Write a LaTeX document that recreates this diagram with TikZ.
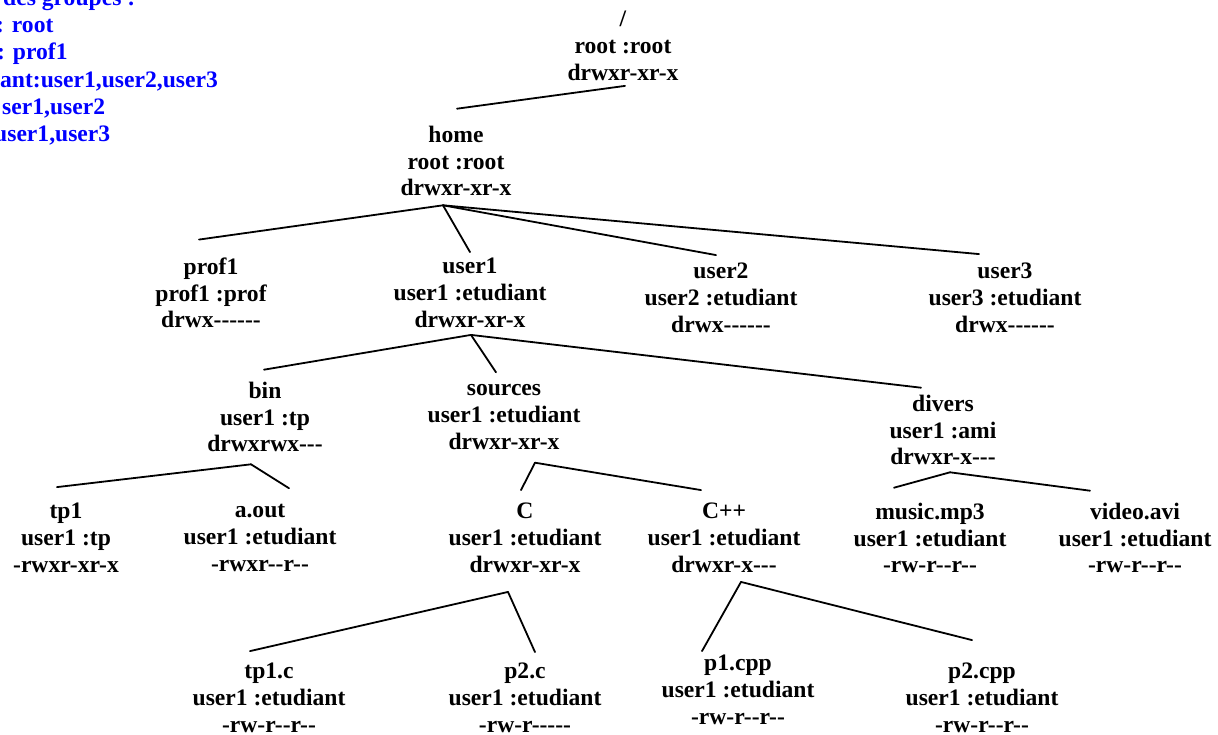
\documentclass[tikz,border=0pt]{standalone}
\usepackage{fontspec}
\setmainfont{Liberation Serif}[Ligatures=TeXOff]

\tikzset{
  entry/.style={align=center, inner sep=0pt, font=\bfseries\fontsize{23.6}{26.8}\selectfont},
  grp/.style={anchor=base west, inner sep=0pt, text=blue, font=\bfseries\fontsize{23.6}{27}\selectfont},
  link/.style={line width=1.8pt, line cap=round, line join=miter},
}

\begin{document}
\begin{tikzpicture}[x=1pt, y=-1pt]
    \useasboundingbox (0,0) rectangle (1218,734);

    % グループ一覧（左上、左端で切れている）
    \node[grp] (g0) at (3,5)      {des groupes :};
    \node[grp] (g1) at (-4,32.5)  {: root};
    \node[grp] (g2) at (-3,59.5)  {: prof1};
    \node[grp] (g3) at (0,87)     {ant:user1,user2,user3};
    \node[grp] (g4) at (2,114)    {ser1,user2};
    \node[grp] (g5) at (-6,141)   {user1,user3};

    % ディレクトリ木
    \node[entry] (root)    at (623,46)  {/\\root :root\\drwxr-xr-x};
    \node[entry] (home)    at (456,161) {home\\root :root\\drwxr-xr-x};

    \node[entry] (prof1)   at (211,293) {prof1\\prof1 :prof\\drwx------};
    \node[entry] (user1)   at (470,293) {user1\\user1 :etudiant\\drwxr-xr-x};
    \node[entry] (user2)   at (721,298) {user2\\user2 :etudiant\\drwx------};
    \node[entry] (user3)   at (1005,298) {user3\\user3 :etudiant\\drwx------};

    \node[entry] (bin)     at (265,417) {bin\\user1 :tp\\drwxrwx---};
    \node[entry] (sources) at (504,417) {sources\\user1 :etudiant\\drwxr-xr-x};
    \node[entry] (divers)  at (943,430) {divers\\user1 :ami\\drwxr-x---};

    \node[entry] (tp1)     at (66,538)  {tp1\\user1 :tp\\-rwxr-xr-x};
    \node[entry] (aout)    at (260,538) {a.out\\user1 :etudiant\\-rwxr--r--};
    \node[entry] (csrc)    at (525,538) {C\\user1 :etudiant\\drwxr-xr-x};
    \node[entry] (cpp)     at (724,538) {C++\\user1 :etudiant\\drwxr-x---};
    \node[entry] (music)   at (930,538) {music.mp3\\user1 :etudiant\\-rw-r--r--};
    \node[entry] (video)   at (1135,538) {video.avi\\user1 :etudiant\\-rw-r--r--};

    \node[entry] (tp1c)    at (269,698) {tp1.c\\user1 :etudiant\\-rw-r--r--};
    \node[entry] (p2c)     at (525,698) {p2.c\\user1 :etudiant\\-rw-r-----};
    \node[entry] (p1cpp)   at (738,690) {p1.cpp\\user1 :etudiant\\-rw-r--r--};
    \node[entry] (p2cpp)   at (982,698) {p2.cpp\\user1 :etudiant\\-rw-r--r--};

    % 親から子への線
    \draw[link] ([shift={(2,5)}]root.south) -- ([shift={(1,-17)}]home.north);

    \foreach \c/\dx/\dy in {prof1/-12/-18, user1/0/-6, user2/-5/-8, user3/-26/-9}
        \draw[link] ([shift={(-13,9)}]home.south) -- ([shift={(\dx,\dy)}]\c.north);

    \foreach \c/\dx/\dy in {bin/-1/-12, sources/-8/-12, divers/-22/-7}
        \draw[link] ([shift={(1,7)}]user1.south) -- ([shift={(\dx,\dy)}]\c.north);

    \foreach \c/\dx/\dy in {tp1/-9/-16, aout/29/-16}
        \draw[link] ([shift={(-14,12)}]bin.south) -- ([shift={(\dx,\dy)}]\c.north);

    \foreach \c/\dx/\dy in {csrc/-4/-13, cpp/-23/-13}
        \draw[link] ([shift={(31,13)}]sources.south) -- ([shift={(\dx,\dy)}]\c.north);

    \foreach \c/\dx/\dy in {music/-36/-15, video/-45/-12}
        \draw[link] ([shift={(7,7)}]divers.south) -- ([shift={(\dx,\dy)}]\c.north);

    \foreach \c/\dx/\dy in {tp1c/-19/-12, p2c/10/-11}
        \draw[link] ([shift={(-17,19)}]csrc.south) -- ([shift={(\dx,\dy)}]\c.north);

    \foreach \c/\dx/\dy in {p1cpp/-36/-4, p2cpp/-10/-23}
        \draw[link] ([shift={(17,9)}]cpp.south) -- ([shift={(\dx,\dy)}]\c.north);

\end{tikzpicture}
\end{document}
